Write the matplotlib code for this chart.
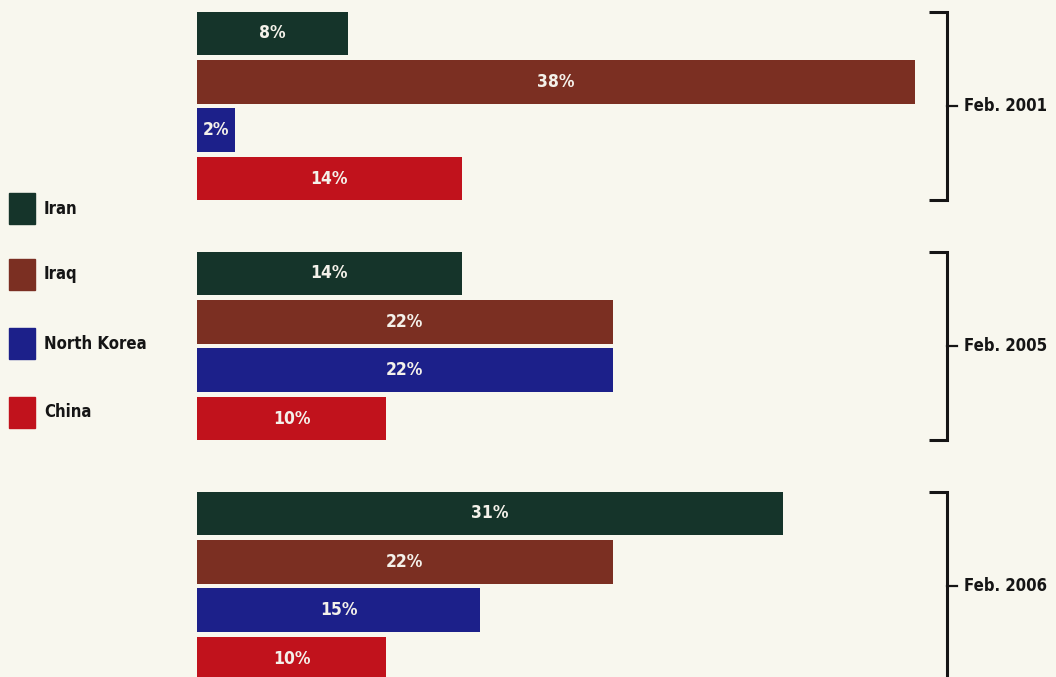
import matplotlib
matplotlib.use('Agg')
import matplotlib.pyplot as plt
import matplotlib.patches as mpatches

plt.rcParams['font.family'] = ['DejaVu Sans']
plt.rcParams['font.stretch'] = 'condensed'

countries = ['Iran', 'Iraq', 'North Korea', 'China']
periods = ['Feb. 2001', 'Feb. 2005', 'Feb. 2006']
values = {
    'Feb. 2001': [8, 38, 2, 14],
    'Feb. 2005': [14, 22, 22, 10],
    'Feb. 2006': [31, 22, 15, 10],
}
colors = ['#15342a', '#7b2f22', '#1c208a', '#c1121c']
bg = '#f8f7ee'

fig = plt.figure(figsize=(10.56, 6.77), dpi=100, facecolor=bg)
ax = fig.add_axes([197 / 1056, 0, 1 - 197 / 1056, 1])
ax.set_facecolor(bg)
ax.set_xlim(0, 859 / 18.9)
ax.set_ylim(13.3, -0.69)
ax.axis('off')

group_step = 4.96
bar_h = 0.9
for g, p in enumerate(periods):
    base = g * group_step
    ys = [base + i for i in range(len(countries))]
    bars = ax.barh(ys, values[p], height=bar_h, color=colors, left=0)
    for bar, v in zip(bars, values[p]):
        ax.text(bar.get_width() / 2, bar.get_y() + bar.get_height() / 2,
                f'{v}%', ha='center', va='center', color='#f4f1ea',
                fontsize=12.5, fontweight='bold', stretch='condensed')
    # bracket
    top = base - bar_h / 2
    bottom = base + len(countries) - 1 + bar_h / 2
    mid = (top + bottom) / 2
    xv = 39.7
    ax.plot([38.75, xv, xv, 38.75], [top, top, bottom, bottom],
            color='#151515', lw=2.2, solid_joinstyle='miter',
            solid_capstyle='butt', clip_on=False)
    ax.plot([xv, 40.2], [mid, mid], color='#151515', lw=1.6)
    ax.text(40.6, mid, p, ha='left', va='center', fontsize=12,
            fontweight='bold', stretch='condensed', color='#151515')

# legend
leg_y = [208.5, 274, 344, 412]
for c, col, yc in zip(countries, colors, leg_y):
    fig.patches.append(mpatches.Rectangle((9 / 1056, 1 - (yc + 15.5) / 677),
                                          26 / 1056, 31 / 677, color=col,
                                          transform=fig.transFigure))
    fig.text(44 / 1056, 1 - yc / 677, c, ha='left', va='center',
             fontsize=12, fontweight='bold', stretch='condensed',
             color='#151515')

fig.savefig('out.png', dpi=100, facecolor=bg)
